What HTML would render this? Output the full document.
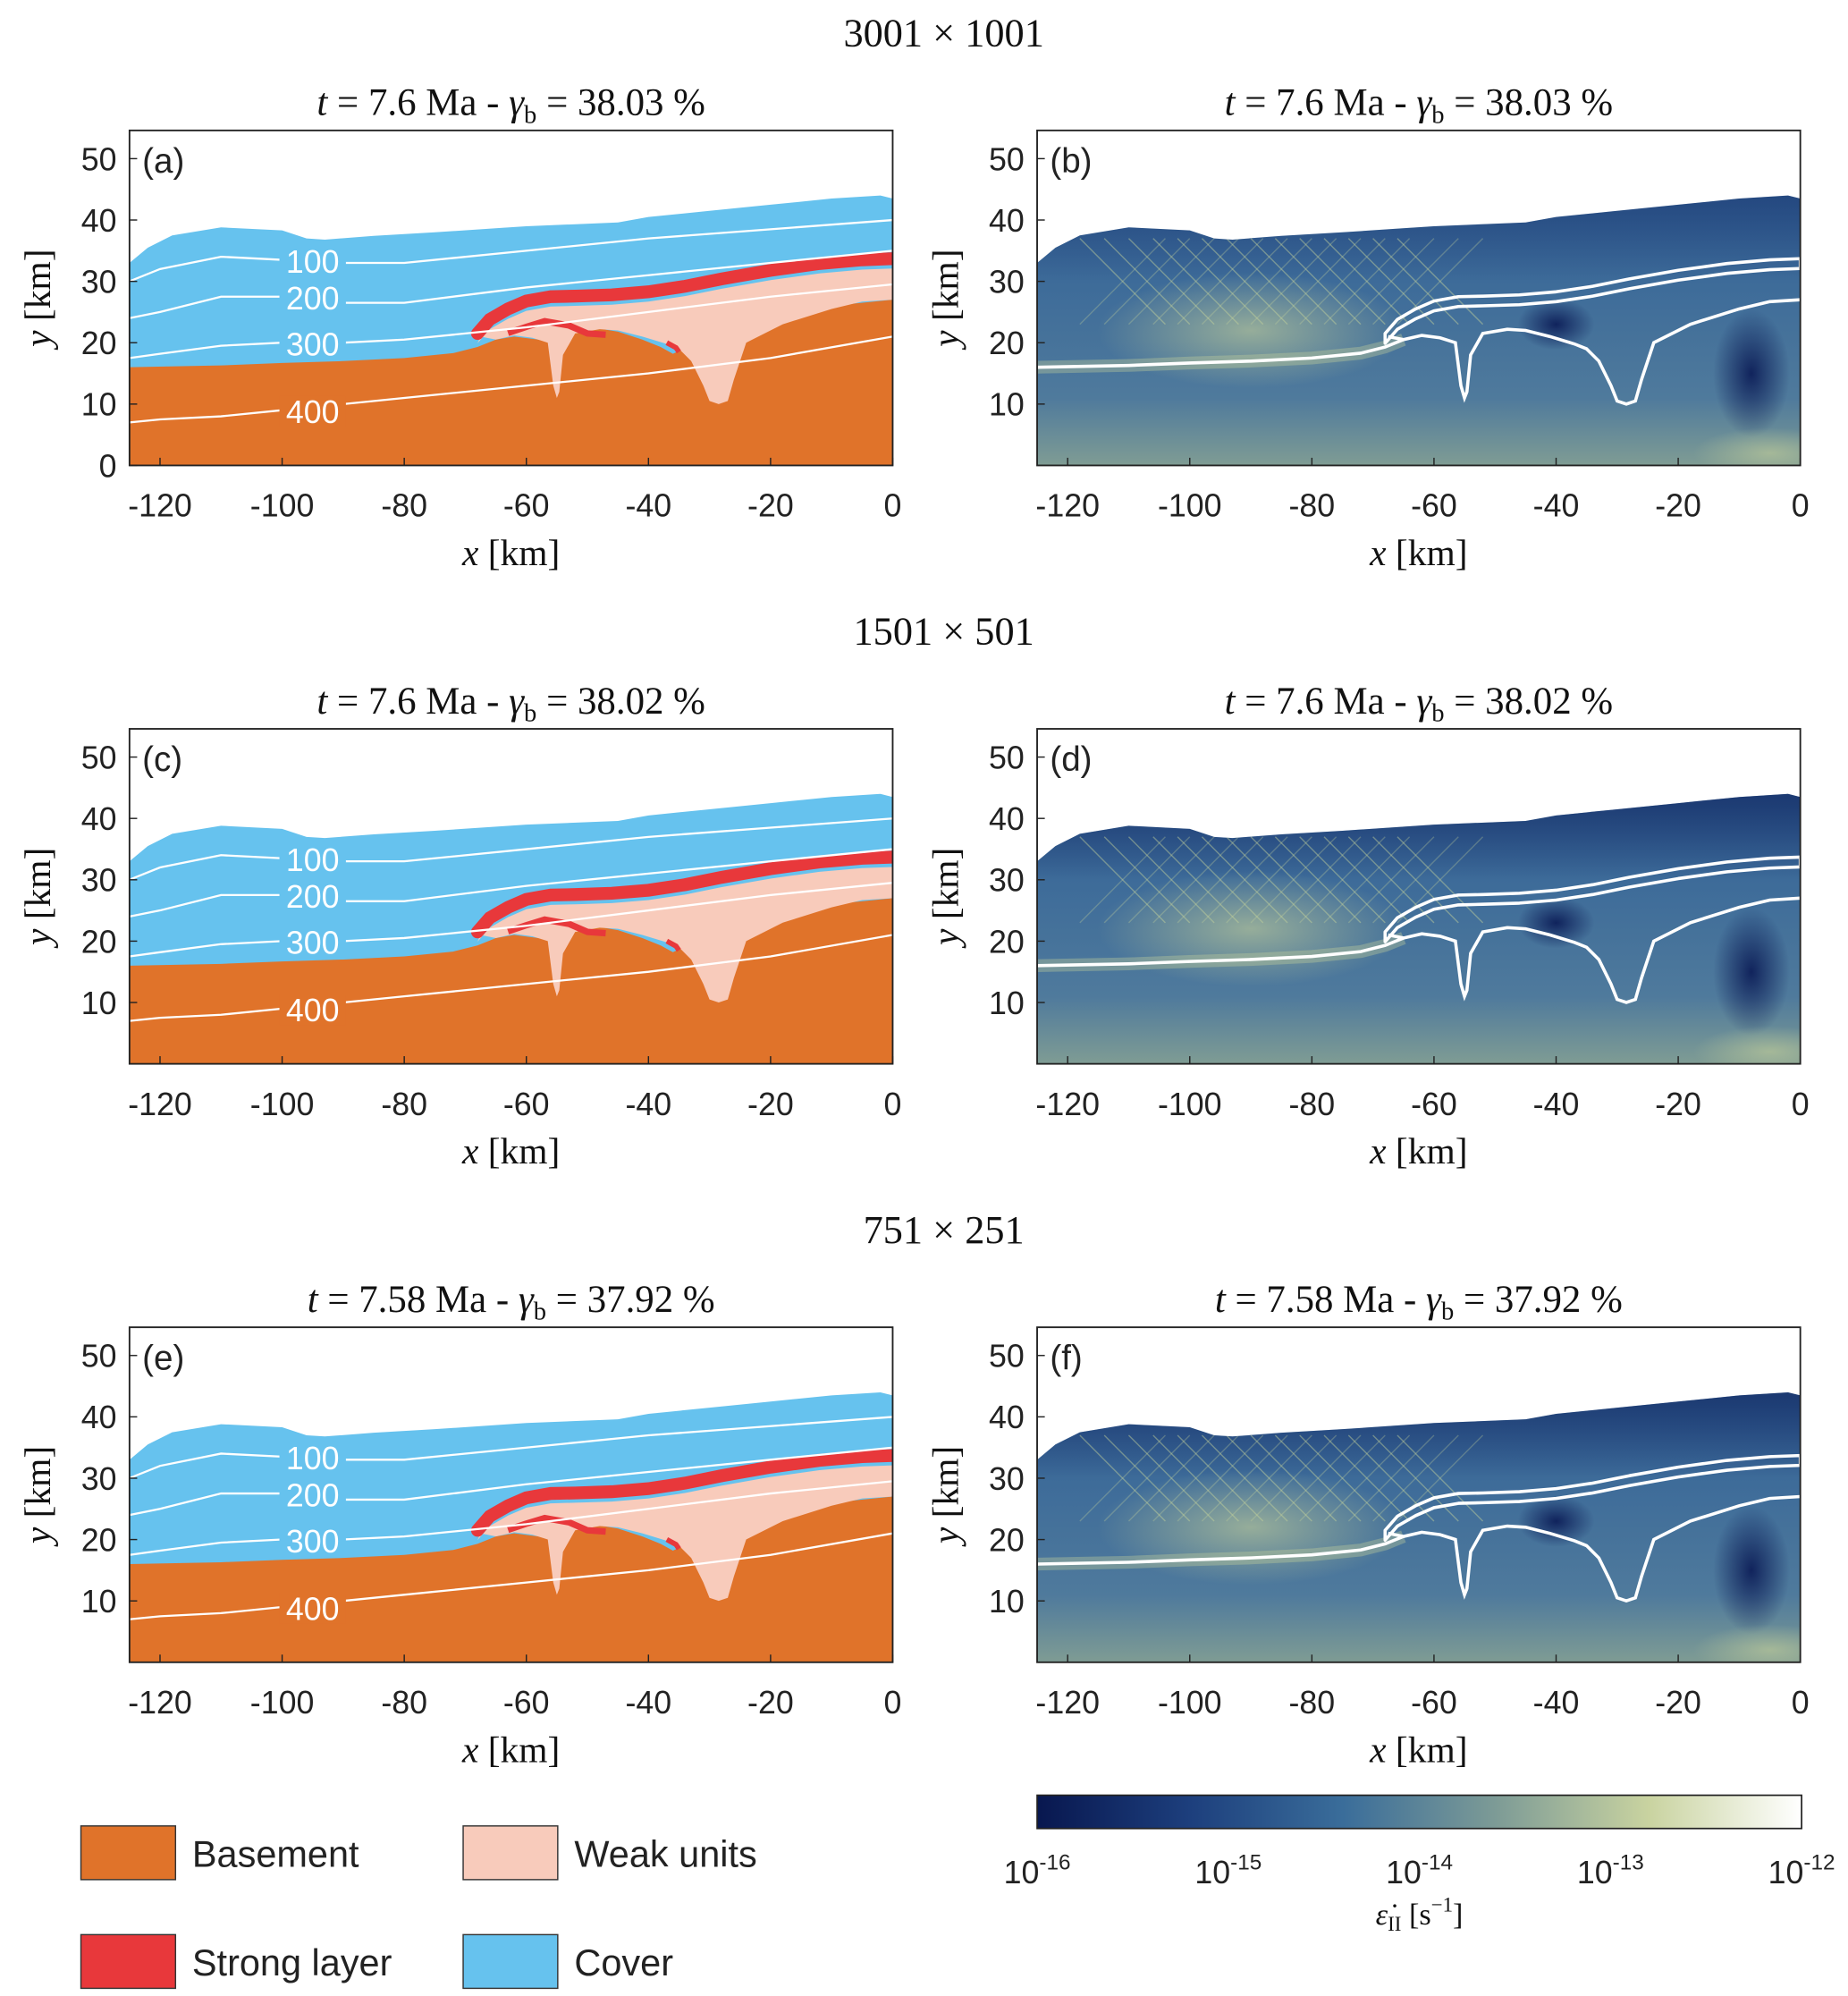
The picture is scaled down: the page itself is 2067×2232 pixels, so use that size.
<!DOCTYPE html>
<html><head><meta charset="utf-8"><style>
html,body{margin:0;padding:0;background:#fff}
svg{display:block}
.tk{font-family:"Liberation Sans",sans-serif;font-size:25px;fill:#222}
.sr{font-family:"Liberation Serif",serif;fill:#111}
</style></head><body>
<svg id="fig" width="2067" height="2232" viewBox="0 0 1445 1561" xmlns="http://www.w3.org/2000/svg">
<defs>
<linearGradient id="cbar" x1="0" x2="1" y1="0" y2="0">
<stop offset="0" stop-color="#08174f"/><stop offset="0.2" stop-color="#1d3f7d"/><stop offset="0.4" stop-color="#3a6d9a"/><stop offset="0.6" stop-color="#7d9b96"/><stop offset="0.8" stop-color="#c9d3a0"/><stop offset="1" stop-color="#ffffff"/>
</linearGradient>
<linearGradient id="srbg" x1="0" x2="0" y1="0" y2="1">
<stop offset="0" stop-color="#1f4584"/><stop offset="0.45" stop-color="#3d6b99"/><stop offset="0.8" stop-color="#4f7a9c"/><stop offset="1" stop-color="#7f9c94"/>
</linearGradient>
<linearGradient id="topdark" x1="0" x2="0" y1="0" y2="1">
<stop offset="0" stop-color="#0a1c55" stop-opacity="1"/><stop offset="0.5" stop-color="#0a1c55" stop-opacity="0.6"/><stop offset="1" stop-color="#0a1c55" stop-opacity="0"/>
</linearGradient>
<radialGradient id="glow1" cx="0.5" cy="0.5" r="0.5"><stop offset="0" stop-color="#b9c79a" stop-opacity="0.7"/><stop offset="1" stop-color="#b9c79a" stop-opacity="0"/></radialGradient>
<radialGradient id="dark1" cx="0.5" cy="0.5" r="0.5"><stop offset="0" stop-color="#0a1a55" stop-opacity="0.9"/><stop offset="1" stop-color="#0a1a55" stop-opacity="0"/></radialGradient>
</defs>
</svg>
<script>
// ---- data ----
const topX=[-125,-122,-118,-110,-100,-96,-93,-85,-75,-60,-45,-40,-30,-20,-10,-2,0];
const topY=[33,35.5,37.5,38.8,38.3,37,36.8,37.4,38,39,39.6,40.5,41.5,42.5,43.5,44,43.5];
const baseX=[-125,-110,-100,-90,-80,-72,-68,-65,-62,-58,-55,-52,-48,-45,-41,-38,-36];
const baseY=[16,16.3,16.7,17,17.5,18.3,19.3,20.5,21,20.5,21.2,22.2,22.3,21.8,20.5,19.3,18.2];
const strongX=[-68,-66,-63,-60,-56,-52,-46,-40,-34,-28,-20,-12,-5,0];
const strongY=[21.5,23.8,25.5,26.8,27.5,27.6,27.8,28.3,29.2,30.4,31.8,32.9,33.5,33.7];
const weakX=[0,-5,-10,-18,-24,-26,-27,-28.5,-30,-31,-33,-35,-37,-41,-45,-48,-52,-54,-54.6,-55,-55.6,-56.5,-59,-62,-65,-67.5];
const weakY=[27,26.7,25.5,23,20,14,10.5,10,10.5,13,17,19,19.8,21,22,22.2,21.5,18,12,11,13,20,20.8,21.2,20.5,21];
const contourLevels=[100,200,300,400];
const cX=[-125,-120,-110,-100,-90,-80,-60,-40,-20,0];
const cY=[[30,32,34,33.5,33,33,35,37,38.5,40],[24,25,27.5,27.5,26.5,26.5,29,31,33,35],[17.5,18.2,19.5,20,20,20.5,22.5,25,27.5,29.5],[7,7.5,8,9,10,11,13,15,17.5,21]];
const xTicks=[-120,-100,-80,-60,-40,-20,0];
const yTicksL=[0,10,20,30,40,50];
const yTicksR=[10,20,30,40,50];
const cbTicks=["-16","-15","-14","-13","-12"];
const titles=["t = 7.6 Ma - γ","t = 7.6 Ma - γ","t = 7.58 Ma - γ"];
const pct=["38.03","38.02","37.92"];
const gridTitles=["3001 × 1001","1501 × 501","751 × 251"];
const letters=[["(a)","(b)"],["(c)","(d)"],["(e)","(f)"]];

const NS="http://www.w3.org/2000/svg";
const svg=document.getElementById('fig');
function el(t,a,p){const e=document.createElementNS(NS,t);for(const k in a)e.setAttribute(k,a[k]);(p||svg).appendChild(e);return e;}
function txt(s,a,p){const e=el('text',a,p);e.textContent=s;return e;}

const rowTop=[102,570,1038];
const colL=[101,811];
const W=597,H=262;
function sx(c,x){return colL[c]+(x+125)/125*W;}
function sy(r,y){return rowTop[r]+H-(y/54.6)*H;}
function pts(c,r,X,Y){return X.map((x,i)=>sx(c,x).toFixed(1)+','+sy(r,Y[i]).toFixed(1)).join(' ');}

for(let r=0;r<3;r++){
  const gt=txt(gridTitles[r],{x:738,y:36+468*r,'text-anchor':'middle','font-size':31,class:'sr'});
  
  
  for(let c=0;c<2;c++){
    const g=el('g',{});
    
    
    const t0=rowTop[r];
    const tt=el('text',{x:colL[c]+W/2,y:t0-12,'text-anchor':'middle','font-size':30,class:'sr'},g);
    tt.innerHTML='<tspan font-style="italic">t</tspan> = '+titles[r].slice(4,-1)+'<tspan font-style="italic">γ</tspan><tspan font-size="20" dy="6">b</tspan><tspan dy="-6"> = '+pct[r]+' %</tspan>';
    
    
    const cpId='cp'+r+c;
    const cp=el('clipPath',{id:cpId},g);
    el('rect',{x:colL[c],y:t0,width:W,height:H},cp);
    const body=el('g',{'clip-path':'url(#'+cpId+')'},g);
    const domain=pts(c,r,topX,topY)+' '+sx(c,0)+','+(t0+H)+' '+sx(c,-125)+','+(t0+H);
    const baseFull=pts(c,r,baseX,baseY)+' '+pts(c,r,[-30,-20,-10,0],[21,24,26,27])+' '+sx(c,0)+','+(t0+H)+' '+sx(c,-125)+','+(t0+H);
    if(c==0){
      const cov=el('polygon',{points:domain,fill:'#66c2ee'},body);
      
      const bs=el('polygon',{points:baseFull,fill:'#e0732a'},body);
      
      const wk=el('polygon',{points:pts(c,r,strongX,strongY.map(v=>v-1.6))+' '+pts(c,r,weakX,weakY),fill:'#f8cbbb'},body);
      
      const st=el('polyline',{points:pts(c,r,strongX,strongY),fill:'none',stroke:'#e8383b','stroke-width':10,'stroke-linecap':'round'},body);
      
      el('polyline',{points:pts(c,r,[-63,-60,-57,-53,-50,-47],[21.6,22.6,23.5,22.8,21.5,21.3]),fill:'none',stroke:'#e8383b','stroke-width':5},body);
      el('polyline',{points:pts(c,r,[-37,-35.5,-35],[20,19.2,18.5]),fill:'none',stroke:'#e8383b','stroke-width':4},body);
      for(let k=0;k<4;k++){
        const cl=el('polyline',{points:pts(c,r,cX,cY[k]),fill:'none',stroke:'#fff','stroke-width':1.6},body);
        
        const lx=-95, ly=cY[k][3]-0.2;
        el('rect',{x:sx(c,lx)-26,y:sy(r,ly)-12,width:52,height:24,fill:k==3?'#e0732a':'#66c2ee'},body);
        const lt=txt(String(contourLevels[k]),{x:sx(c,lx),y:sy(r,ly)+9,'text-anchor':'middle',class:'tk',style:'fill:#fff;font-size:25px'},body);
        
      }
    } else {
      const dp=el('clipPath',{id:'dm'+r},g);
      el('polygon',{points:domain},dp);
      const dg=el('g',{'clip-path':'url(#dm'+r+')'},body);
      const bg=el('rect',{x:colL[c],y:t0,width:W,height:H,fill:'url(#srbg)'},dg);
      
      const dk=r==0?0.35:0.75;
      el('rect',{x:colL[c],y:t0,width:W,height:H*0.45,fill:'url(#topdark)',opacity:dk},dg);
      el('ellipse',{cx:sx(c,-90),cy:sy(r,22),rx:120,ry:45,fill:'url(#glow1)'},dg);
      el('ellipse',{cx:sx(c,-40),cy:sy(r,23),rx:30,ry:20,fill:'url(#dark1)'},dg);
      el('ellipse',{cx:sx(c,-8),cy:sy(r,15),rx:30,ry:50,fill:'url(#dark1)'},dg);
      el('ellipse',{cx:sx(c,-5),cy:sy(r,2),rx:60,ry:20,fill:'url(#glow1)'},dg);
      el('polyline',{points:pts(c,r,baseX.slice(0,8),baseY.slice(0,8)),fill:'none',stroke:'#c8d59c','stroke-width':10,opacity:0.35},dg);
      for(let k=0;k<14;k++){
        const x0=-118+k*4;
        el('line',{x1:sx(c,x0),y1:sy(r,37),x2:sx(c,x0+14),y2:sy(r,23),stroke:'#c8d59c','stroke-width':1,opacity:0.45},dg);
        el('line',{x1:sx(c,x0+14),y1:sy(r,37),x2:sx(c,x0),y2:sy(r,23),stroke:'#c8d59c','stroke-width':1,opacity:0.3},dg);
      }
      const w={fill:'none',stroke:'#fff','stroke-width':2.5};
      const bl=el('polyline',Object.assign({points:pts(c,r,baseX.slice(0,8),baseY.slice(0,8))},w),body);
      
      const botY=strongY.map(v=>v-1.6);
      const loop=pts(c,r,strongX,strongY)+' '+pts(c,r,strongX.slice().reverse(),botY.slice().reverse());
      const sl=el('polygon',Object.assign({points:loop,'stroke-linejoin':'round'},w),body);
      
      el('polyline',Object.assign({points:pts(c,r,weakX,weakY)},w),body);
    }
    const ax=el('rect',{x:colL[c],y:t0,width:W,height:H,fill:'none',stroke:'#222','stroke-width':1.3},g);
    
    xTicks.forEach(v=>{
      el('line',{x1:sx(c,v),x2:sx(c,v),y1:t0+H,y2:t0+H-6,stroke:'#222'},g);
      const l=txt(String(v),{x:sx(c,v),y:t0+H+40,'text-anchor':'middle',class:'tk'},g);
      
    });
    (c==0&&r==0?yTicksL:yTicksR).forEach(v=>{
      el('line',{x1:colL[c],x2:colL[c]+6,y1:sy(r,v),y2:sy(r,v),stroke:'#222'},g);
      const l=txt(String(v),{x:colL[c]-10,y:sy(r,v)+9,'text-anchor':'end',class:'tk'},g);
      
    });
    const lt=txt(letters[r][c],{x:colL[c]+10,y:t0+33,class:'tk',style:'font-size:27px'},g);
    
    const xl=el('text',{x:colL[c]+W/2,y:t0+H+78,'text-anchor':'middle','font-size':29,class:'sr'},g);
    xl.innerHTML='<tspan font-style="italic">x</tspan> [km]';
    
    const yl=el('text',{x:0,y:0,'text-anchor':'middle','font-size':29,class:'sr',transform:'translate('+(colL[c]-62)+','+(t0+H/2)+') rotate(-90)'},g);
    yl.innerHTML='<tspan font-style="italic">y</tspan> [km]';
    
  }
}
const cb=el('rect',{x:811,y:1404,width:598,height:26,fill:'url(#cbar)',stroke:'#222','stroke-width':1.2});

cbTicks.forEach((v,i)=>{
  const x=811+i*598/4;
  const t=el('text',{x:x,y:1473,'text-anchor':'middle',class:'tk'});
  t.innerHTML='10<tspan font-size="17" dy="-11">'+v+'</tspan>';
  
});
const ct=el('text',{x:1110,y:1505,'text-anchor':'middle','font-size':24,class:'sr'});
ct.innerHTML='<tspan font-style="italic">ε̇</tspan><tspan font-size="16" dy="5">II</tspan><tspan dy="-5"> [s</tspan><tspan font-size="16" dy="-10">−1</tspan><tspan dy="10">]</tspan>';

const legN=["Basement","Weak units","Strong layer","Cover"];
const legC=["#e0732a","#f8cbbb","#e8383b","#66c2ee"];
legN.forEach((n,i)=>{
  const x=63+(i%2)*299, y=1428+Math.floor(i/2)*85;
  const g=el('g',{});
  
  el('rect',{x:x,y:y,width:74,height:42,fill:legC[i],stroke:'#333','stroke-width':1},g);
  txt(n,{x:x+87,y:y+32,class:'tk',style:'font-size:29px'},g);
});
</script>
</body></html>
